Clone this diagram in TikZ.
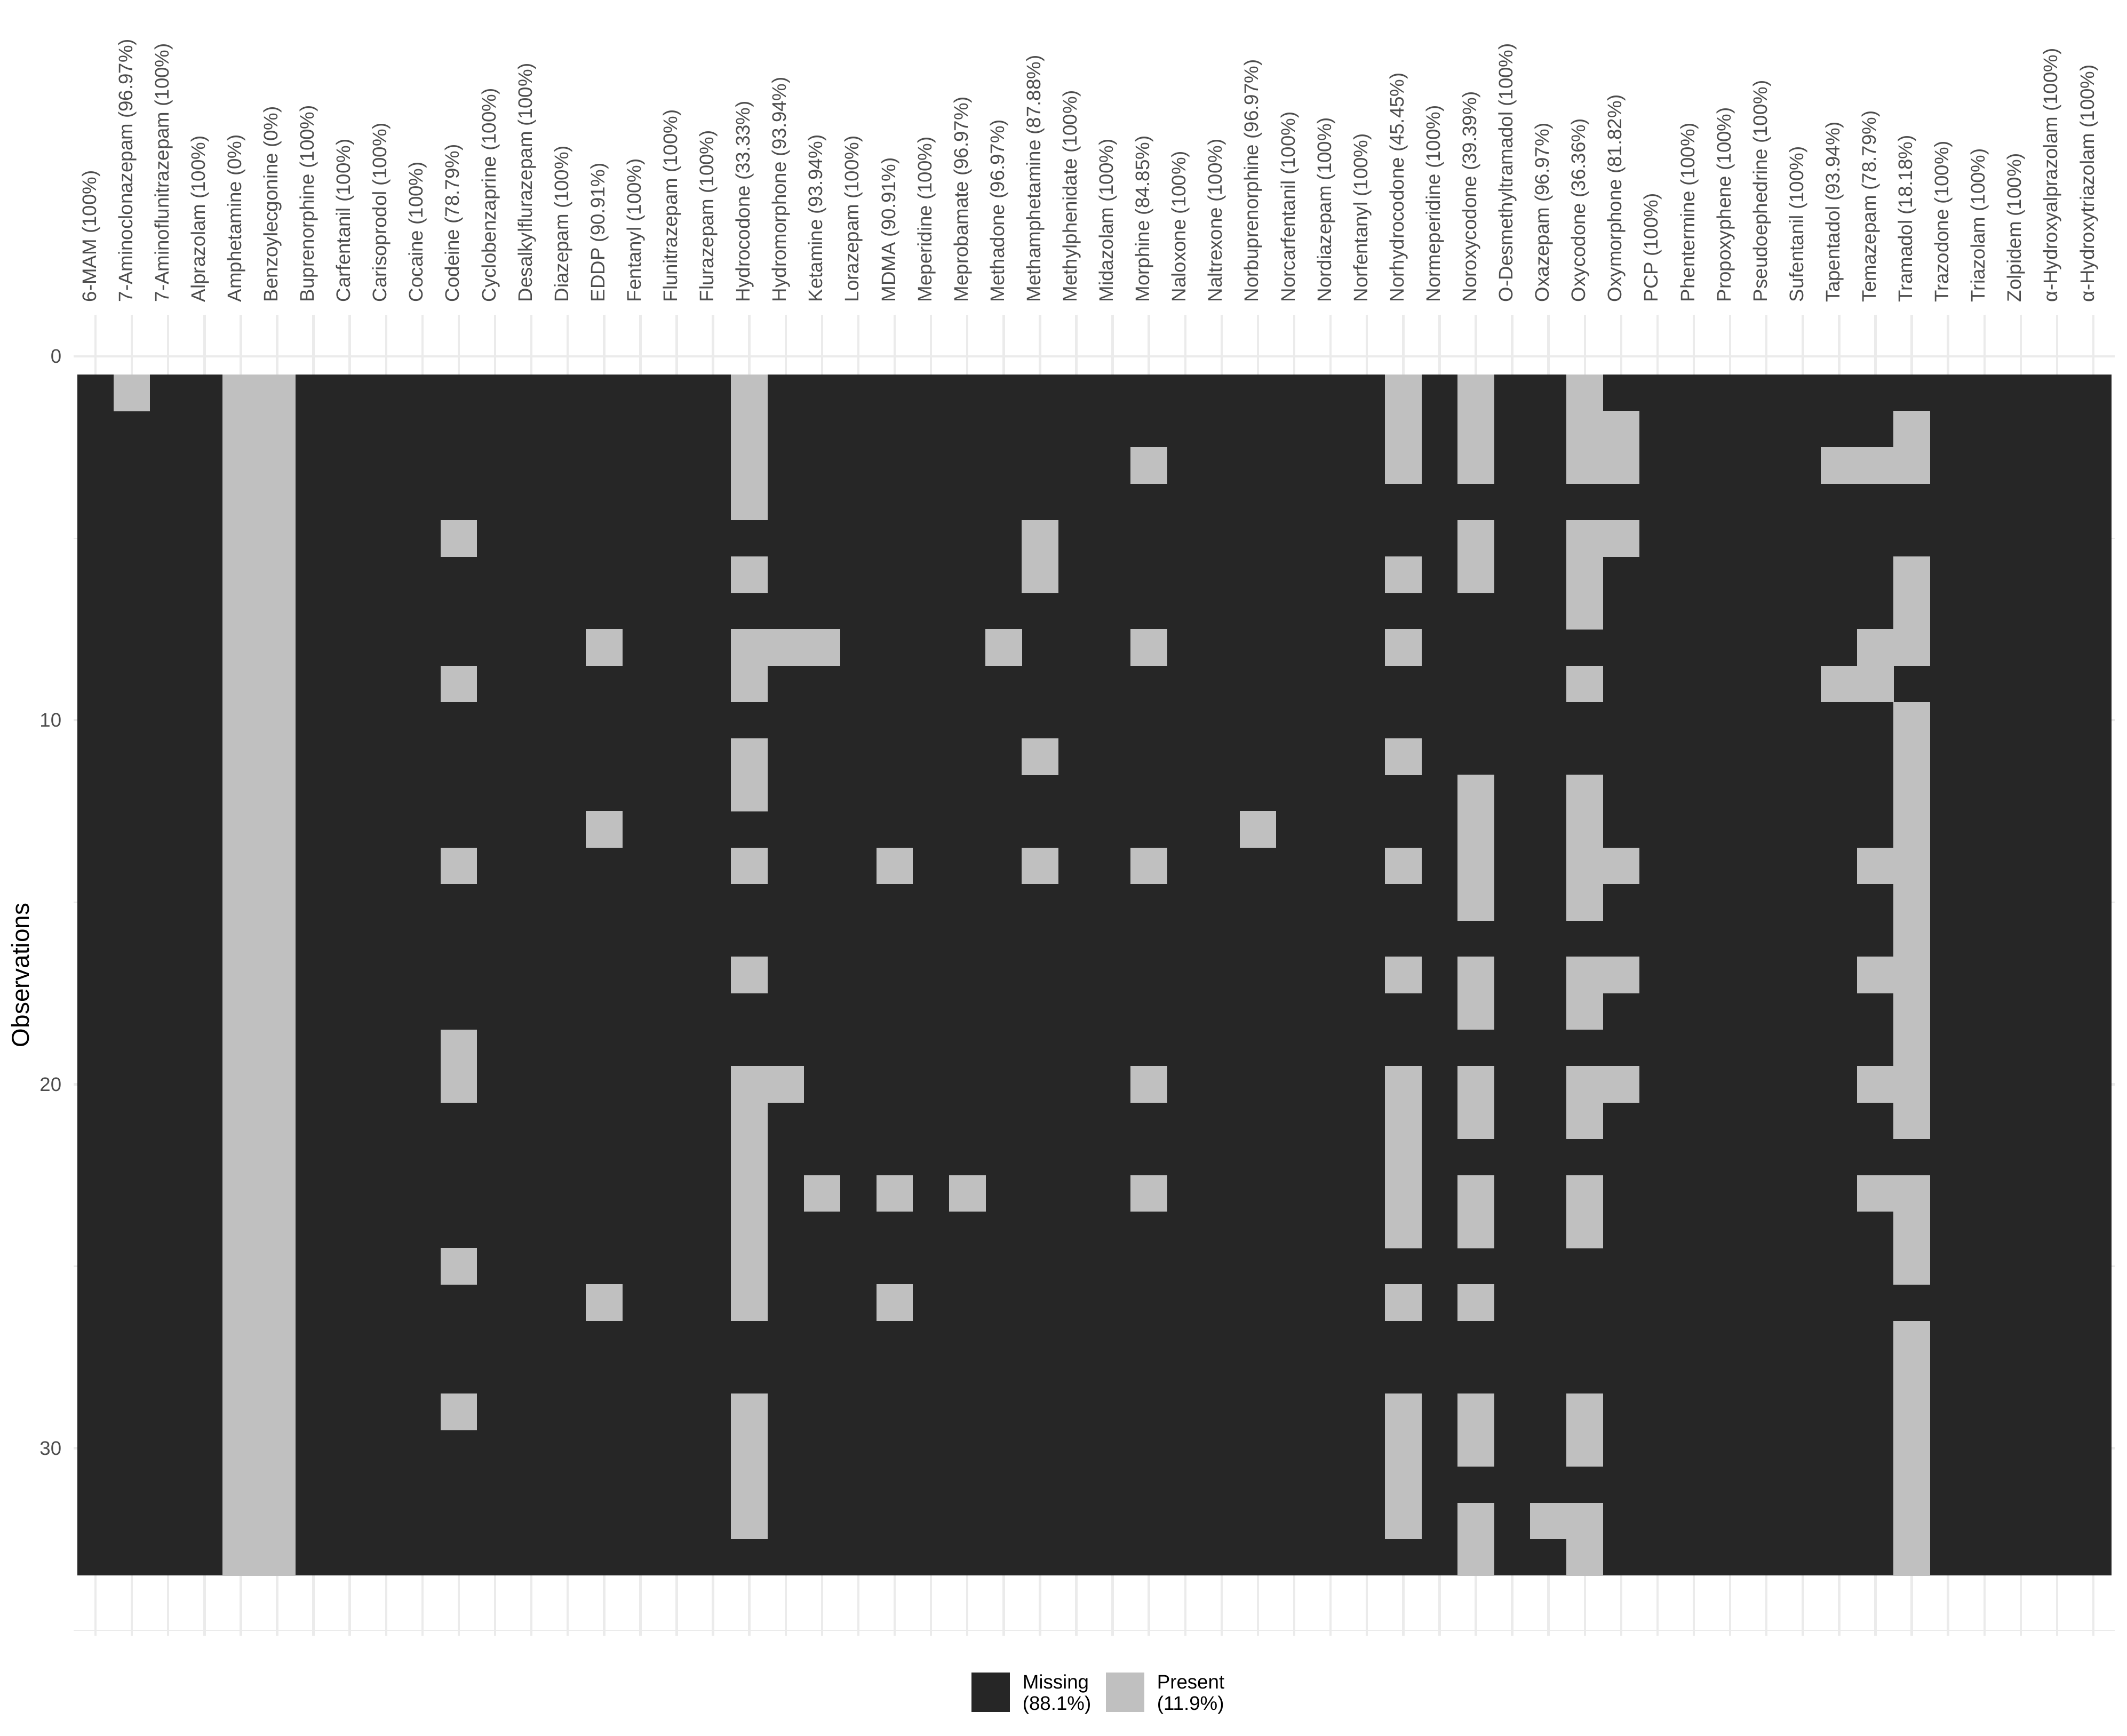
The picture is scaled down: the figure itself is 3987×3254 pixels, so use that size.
\documentclass[tikz,border=0pt]{standalone}
\usepackage{fontspec}
\setmainfont{Liberation Sans}
\definecolor{miss}{HTML}{262626}
\definecolor{pres}{HTML}{C0C0C0}
\definecolor{gridc}{HTML}{EBEBEB}
\definecolor{axtext}{HTML}{4D4D4D}
\def\gx{145}
\def\gy{702.1}
\def\cw{68.09}
\def\rh{68.22}
\tikzset{
  majgrid/.style={draw=gridc, line width=1.06pt},
  mingrid/.style={draw=gridc, line width=0.53pt},
  collab/.style={rotate=90, anchor=base west, inner sep=0pt, text=axtext, font=\fontsize{8.8}{10.5}\selectfont},
  ticklab/.style={anchor=east, inner sep=0pt, text=axtext, font=\fontsize{8.8}{10.5}\selectfont},
  axtitle/.style={rotate=90, anchor=base, inner sep=0pt, text=black, font=\fontsize{11}{13}\selectfont},
  legtext/.style={anchor=base west, inner sep=0pt, text=black, font=\fontsize{8.8}{10.5}\selectfont},
  misscell/.style={fill=miss},
  prescell/.style={fill=pres}
}
\begin{document}
\begin{tikzpicture}[x=0.24pt, y=-0.24pt]
\useasboundingbox (0,0) rectangle (3987,3254);
\fill[white] (0,0) rectangle (3987,3254);
% vertical major gridlines
\foreach \c in {1,...,56} {
  \draw[majgrid] ({\gx+(\c-0.5)*\cw},589.5) -- ({\gx+(\c-0.5)*\cw},3066);
}
% horizontal gridlines
\foreach \v in {0,10,20,30} {
  \draw[majgrid] (138.2,{668+\v*\rh}) -- (3964,{668+\v*\rh});
}
\foreach \v in {5,15,25,35} {
  \draw[mingrid] (138.2,{668+\v*\rh}) -- (3964,{668+\v*\rh});
}
% raster: missing background
\fill[misscell] (\gx,\gy) rectangle ({\gx+56*\cw},{\gy+33*\rh});
% present runs: column/first row/last row
\foreach \c/\a/\b in {
  2/1/1, 5/1/33, 6/1/33,
  11/5/5, 11/9/9, 11/14/14, 11/19/20, 11/25/25, 11/29/29,
  15/8/8, 15/13/13, 15/26/26,
  19/1/4, 19/6/6, 19/8/9, 19/11/12, 19/14/14, 19/17/17, 19/20/26, 19/29/32,
  20/8/8, 20/20/20,
  21/8/8, 21/23/23,
  23/14/14, 23/23/23, 23/26/26,
  25/23/23,
  26/8/8,
  27/5/6, 27/11/11, 27/14/14,
  30/3/3, 30/8/8, 30/14/14, 30/20/20, 30/23/23,
  33/13/13,
  37/1/3, 37/6/6, 37/8/8, 37/11/11, 37/14/14, 37/17/17, 37/20/24, 37/26/26, 37/29/32,
  39/1/3, 39/5/6, 39/12/15, 39/17/18, 39/20/21, 39/23/24, 39/26/26, 39/29/30, 39/32/33,
  41/32/32,
  42/1/3, 42/5/7, 42/9/9, 42/12/15, 42/17/18, 42/20/21, 42/23/24, 42/29/30, 42/32/33,
  43/2/3, 43/5/5, 43/14/14, 43/17/17, 43/20/20,
  49/3/3, 49/9/9,
  50/3/3, 50/8/9, 50/14/14, 50/17/17, 50/20/20, 50/23/23,
  51/2/3, 51/6/8, 51/10/21, 51/23/25, 51/27/33} {
  \fill[prescell] ({\gx+(\c-1)*\cw-0.3},{\gy+(\a-1)*\rh-0.3}) rectangle ({\gx+\c*\cw+0.3},{\gy+\b*\rh+0.3});
}
% column labels
\foreach \c/\t in {
  1/{6-MAM (100\%)},
  2/{7-Aminoclonazepam (96.97\%)},
  3/{7-Aminoflunitrazepam (100\%)},
  4/{Alprazolam (100\%)},
  5/{Amphetamine (0\%)},
  6/{Benzoylecgonine (0\%)},
  7/{Buprenorphine (100\%)},
  8/{Carfentanil (100\%)},
  9/{Carisoprodol (100\%)},
  10/{Cocaine (100\%)},
  11/{Codeine (78.79\%)},
  12/{Cyclobenzaprine (100\%)},
  13/{Desalkylflurazepam (100\%)},
  14/{Diazepam (100\%)},
  15/{EDDP (90.91\%)},
  16/{Fentanyl (100\%)},
  17/{Flunitrazepam (100\%)},
  18/{Flurazepam (100\%)},
  19/{Hydrocodone (33.33\%)},
  20/{Hydromorphone (93.94\%)},
  21/{Ketamine (93.94\%)},
  22/{Lorazepam (100\%)},
  23/{MDMA (90.91\%)},
  24/{Meperidine (100\%)},
  25/{Meprobamate (96.97\%)},
  26/{Methadone (96.97\%)},
  27/{Methamphetamine (87.88\%)},
  28/{Methylphenidate (100\%)},
  29/{Midazolam (100\%)},
  30/{Morphine (84.85\%)},
  31/{Naloxone (100\%)},
  32/{Naltrexone (100\%)},
  33/{Norbuprenorphine (96.97\%)},
  34/{Norcarfentanil (100\%)},
  35/{Nordiazepam (100\%)},
  36/{Norfentanyl (100\%)},
  37/{Norhydrocodone (45.45\%)},
  38/{Normeperidine (100\%)},
  39/{Noroxycodone (39.39\%)},
  40/{O-Desmethyltramadol (100\%)},
  41/{Oxazepam (96.97\%)},
  42/{Oxycodone (36.36\%)},
  43/{Oxymorphone (81.82\%)},
  44/{PCP (100\%)},
  45/{Phentermine (100\%)},
  46/{Propoxyphene (100\%)},
  47/{Pseudoephedrine (100\%)},
  48/{Sufentanil (100\%)},
  49/{Tapentadol (93.94\%)},
  50/{Temazepam (78.79\%)},
  51/{Tramadol (18.18\%)},
  52/{Trazodone (100\%)},
  53/{Triazolam (100\%)},
  54/{Zolpidem (100\%)},
  55/{α-Hydroxyalprazolam (100\%)},
  56/{α-Hydroxytriazolam (100\%)}} {
  \node[collab] (lab\c) at ({\gx+(\c-0.5)*\cw+1},567) {\t};
}
% y tick labels
\foreach \v in {0,10,20,30} {
  \node[ticklab] (tick\v) at (116,{668+\v*\rh}) {\v};
}
% axis title
\node[axtitle] (ytitle) at (55,1828) {Observations};
% legend
\fill[misscell] (1821,3135) rectangle (1893,3208.5);
\fill[prescell] (2073,3135) rectangle (2145,3208.5);
\node[legtext] (legmiss1) at (1916,3165) {Missing};
\node[legtext] (legmiss2) at (1916,3205) {(88.1\%)};
\node[legtext] (legpres1) at (2168,3165) {Present};
\node[legtext] (legpres2) at (2168,3205) {(11.9\%)};
\end{tikzpicture}
\end{document}
